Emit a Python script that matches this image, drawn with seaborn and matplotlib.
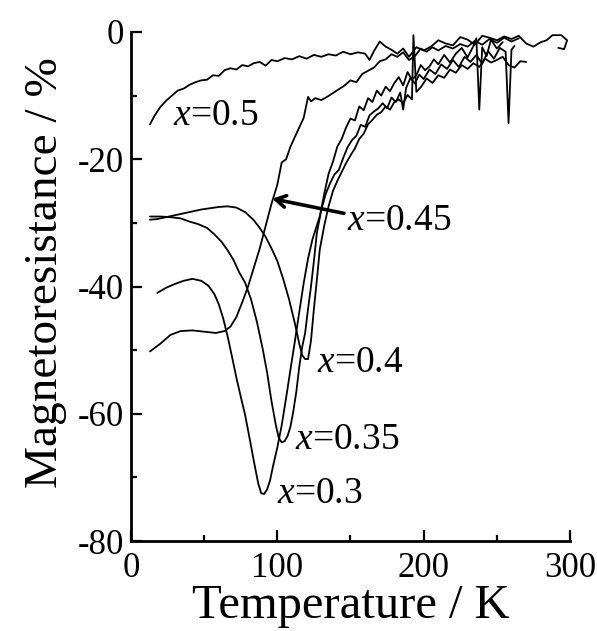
import matplotlib
matplotlib.use("Agg")
import matplotlib.pyplot as plt
from matplotlib.ticker import MultipleLocator
import seaborn as sns

# ---- data (T in K, MR in %) ----
t_05 = [13, 16, 20, 24, 28, 32, 36, 40, 44, 48, 52, 56, 60, 64, 68, 72, 76, 80, 84, 88,
        92, 96, 100, 105, 110, 115, 120, 125, 130, 135, 140, 145, 150, 155, 160, 163, 166,
        170, 174, 178, 182, 186, 190, 195, 200, 205, 210, 215, 220, 225, 230, 235, 240,
        245, 250, 255, 260, 265, 270, 275, 280, 284, 288, 294, 298, 296, 292]
mr_05 = [-14.5, -13.2, -11.8, -10.8, -10.0, -9.2, -8.9, -8.3, -7.9, -7.6, -7.5, -6.8, -6.9,
         -6.0, -5.7, -5.9, -5.2, -5.4, -4.9, -4.7, -5.3, -4.4, -4.6, -4.1, -4.3, -3.8, -4.2,
         -3.6, -3.9, -3.5, -3.7, -3.1, -3.5, -3.2, -3.4, -4.4, -3.0, -1.5, -2.3, -2.8, -3.4,
         -2.6, -3.9, -2.4, -2.9, -2.3, -1.3, -1.8, -2.1, -0.8, -1.2, -2.0, -0.6, -0.9, -1.3,
         -0.7, -1.1, -0.6, -1.8, -2.3, -1.6, -1.3, -0.5, -0.5, -1.3, -2.7, -2.5]

t_045 = [13, 20, 27, 34, 42, 50, 58, 64, 68, 72, 76, 80, 84, 88, 92, 96, 100, 103, 106, 109,
         112, 115, 118, 121, 123, 126, 130, 134, 138, 142, 146, 150, 154, 158, 162, 166, 170,
         174, 178, 182, 186, 190, 194, 198, 202, 206, 210, 215, 220, 225, 230, 235, 240, 245,
         250, 255, 260, 265]
mr_045 = [-50.2, -49.0, -47.6, -47.0, -46.9, -47.1, -47.3, -47.0, -46.3, -44.8, -42.5, -40.0,
          -37.0, -34.0, -30.5, -27.0, -24.0, -20.5, -20.0, -18.0, -16.5, -15.0, -13.5, -10.2,
          -10.9, -10.4, -10.7, -10.2, -9.6, -9.0, -8.4, -7.6, -7.9, -6.6, -6.1, -5.6, -4.6,
          -4.3, -3.5, -3.9, -3.2, -4.4, -3.8, -2.6, -3.1, -2.4, -2.9, -2.2, -2.6, -1.9, -2.3,
          -1.4, -2.0, -1.1, -1.7, -0.9, -1.5, -1.0]

t_04 = [13, 18, 24, 30, 36, 42, 48, 54, 60, 66, 72, 78, 84, 88, 92, 96, 100, 104, 108, 112,
        115, 117, 119, 121, 123, 125, 127, 129, 132, 135, 138, 141, 144, 147, 150, 153, 156,
        159, 162, 165, 168, 171, 174, 177, 180, 183, 186, 189, 192, 193, 195, 198, 202, 206,
        210, 214, 218, 222, 226, 230, 234, 238, 242, 246, 250, 254, 258, 262, 266, 270]
mr_04 = [-29.5, -29.4, -29.1, -28.8, -28.5, -28.2, -27.9, -27.7, -27.5, -27.4, -27.6, -28.3,
         -29.6, -30.8, -32.2, -34.0, -36.0, -38.8, -42.0, -45.8, -49.0, -50.8, -51.4, -51.4,
         -48.5, -43.5, -39.0, -34.2, -30.5, -27.4, -25.0, -23.4, -22.0, -20.6, -19.4, -18.3,
         -16.8, -16.0, -14.5, -13.8, -13.0, -12.6, -11.7, -12.2, -11.0, -10.6, -11.2, -9.9,
         -10.6, -0.5, -9.4, -8.7, -7.3, -8.0, -6.8, -7.2, -5.9, -6.4, -5.2, -5.8, -4.9, -5.5,
         -4.2, -4.8, -4.4, -3.9, -5.2, -5.6, -4.6, -4.7]

t_035 = [13, 20, 27, 34, 40, 46, 52, 57, 62, 66, 70, 74, 78, 82, 86, 90, 93, 96, 99, 101,
         103, 105, 107, 109, 111, 113, 115, 117, 119, 121, 123, 125, 127, 130, 133, 136, 139,
         142, 145, 148, 151, 154, 157, 160, 163, 166, 169, 172, 175, 178, 181, 184, 186, 188,
         191, 194, 197, 200, 204, 208, 212, 216, 220, 224, 228, 232, 236, 240, 244, 248, 252,
         256, 258, 260, 262]
mr_035 = [-29.0, -29.0, -29.1, -29.3, -29.8, -30.2, -30.8, -31.8, -33.0, -34.3, -35.8, -37.8,
          -39.4, -42.0, -45.5, -49.8, -53.5, -58.0, -61.8, -63.8, -64.5, -64.3, -63.5, -62.0,
          -59.5, -56.5, -52.6, -49.5, -47.3, -43.5, -40.0, -36.0, -31.6, -28.0, -25.5, -23.8,
          -22.4, -21.7, -19.8, -18.1, -17.0, -16.3, -14.6, -14.9, -13.1, -12.5, -12.0, -11.2,
          -12.0, -10.3, -11.0, -9.5, -12.2, -8.8, -7.2, -8.1, -6.7, -7.4, -5.9, -6.6, -5.1,
          -5.8, -4.4, -5.5, -3.9, -4.7, -3.6, -5.0, -3.0, -4.2, -2.5, -3.1, -14.3, -2.8, -2.2]

t_03 = [18, 24, 30, 36, 42, 48, 53, 57, 60, 63, 66, 69, 72, 75, 78, 81, 84, 87, 89, 91, 93,
        95, 97, 100, 103, 106, 109, 112, 115, 118, 121, 124, 127, 129, 132, 135, 138, 141, 144,
        147, 150, 153, 156, 159, 162, 165, 168, 171, 174, 177, 180, 183, 186, 189, 192, 195,
        198, 201, 204, 207, 210, 214, 218, 222, 226, 230, 234, 236, 238, 240, 243, 246, 250,
        254]
mr_03 = [-41.0, -40.2, -39.6, -39.1, -38.8, -39.1, -39.9, -41.2, -42.8, -45.0, -47.8, -51.0,
         -54.3, -57.3, -60.2, -63.8, -67.5, -71.0, -72.5, -72.6, -71.9, -70.5, -68.3, -65.3,
         -61.8, -57.5, -53.0, -48.6, -44.0, -39.5, -35.6, -32.6, -30.4, -29.0, -25.5, -22.3,
         -20.4, -18.0, -16.8, -15.0, -13.6, -13.9, -11.7, -12.3, -10.4, -11.0, -9.2, -10.0,
         -8.6, -9.3, -8.0, -7.1, -8.4, -6.3, -7.5, -6.8, -5.2, -6.0, -5.4, -4.3, -5.1, -3.6,
         -4.8, -3.4, -2.5, -4.0, -2.2, -1.0, -12.2, -2.4, -3.8, -1.2, -2.6, -1.6]

curves = [(t_05, mr_05), (t_045, mr_045), (t_04, mr_04), (t_035, mr_035), (t_03, mr_03)]

# label text, text position (T, MR) at left/baseline
labels = ["$x$=0.5", "$x$=0.45", "$x$=0.4", "$x$=0.35", "$x$=0.3"]
label_t = [28.5, 147.5, 127, 112, 100]
label_mr = [-14.6, -31.1, -53.4, -65.6, -74.0]
arrow_tail = (145.5, -28.5)
arrow_head = (96.5, -26.2)

sns.set_theme(style="ticks")
plt.rcParams["font.family"] = ["Liberation Serif", "DejaVu Serif"]
plt.rcParams["mathtext.fontset"] = "custom"
plt.rcParams["mathtext.it"] = "Liberation Serif:italic"
plt.rcParams["mathtext.rm"] = "Liberation Serif"
plt.rcParams["axes.unicode_minus"] = False

fig = plt.figure(figsize=(5.97, 6.31), dpi=100)
ax = fig.add_axes([0.2194, 0.1426, 0.7354, 0.8067])

for t, mr in curves:
    sns.lineplot(x=t, y=mr, ax=ax, color="black", lw=1.3, sort=False, estimator=None)

for txt, tx, ty in zip(labels, label_t, label_mr):
    ax.text(tx, ty, txt, fontsize=27, ha="left", va="baseline", color="black")

ax.annotate("", xy=arrow_head, xytext=arrow_tail,
            arrowprops=dict(arrowstyle="->,head_length=0.6,head_width=0.35",
                            lw=2.6, color="black", shrinkA=0, shrinkB=0))

ax.set_xlim(0, 300)
ax.set_ylim(-80, 0)
ax.xaxis.set_major_locator(MultipleLocator(100))
ax.xaxis.set_minor_locator(MultipleLocator(50))
ax.yaxis.set_major_locator(MultipleLocator(20))
ax.yaxis.set_minor_locator(MultipleLocator(10))
ax.tick_params(which="both", direction="in", width=1.6, labelsize=25, colors="black")
ax.tick_params(axis="x", which="major", length=8, pad=8)
ax.tick_params(axis="y", which="major", length=8, pad=5)
ax.tick_params(which="minor", length=4.5)
for s in ["top", "right"]:
    ax.spines[s].set_visible(False)
for s in ["left", "bottom"]:
    ax.spines[s].set_linewidth(2.0)
    ax.spines[s].set_color("black")

ax.set_xlabel("Temperature / K", fontsize=35, labelpad=-1, color="black")
ax.set_ylabel("Magnetoresistance / %", fontsize=34, color="black")
ax.yaxis.set_label_coords(-0.145, 0.527)

fig.savefig("out.png", dpi=100)
